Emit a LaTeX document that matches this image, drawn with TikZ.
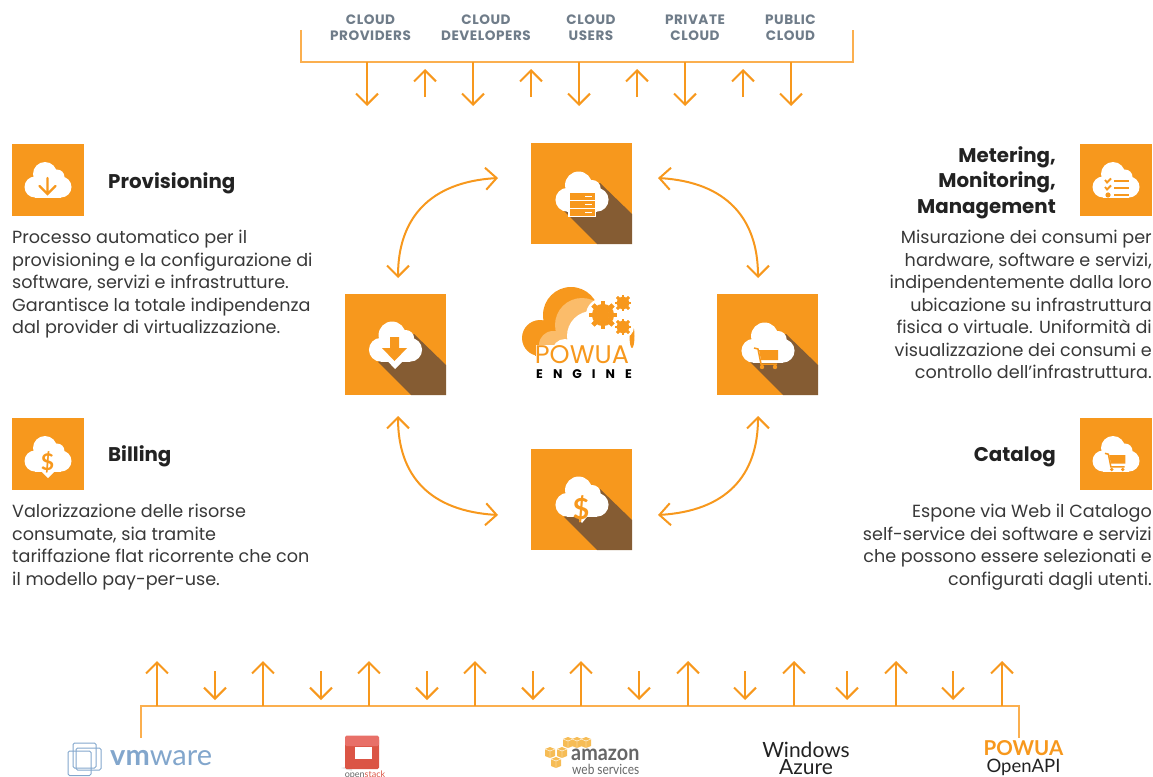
\documentclass[tikz,border=0pt]{standalone}
\usepackage{fontspec}
\setmainfont{Poppins}
\newfontfamily\latof{Lato}
\usetikzlibrary{arrows.meta}
\definecolor{org}{HTML}{F7981D}
\definecolor{bus}{HTML}{FBAF4F}
\definecolor{shad}{HTML}{855C33}
\definecolor{band}{HTML}{FBBC6A}
\definecolor{lab}{HTML}{6F7C89}
\definecolor{ink}{HTML}{222222}
\definecolor{body}{HTML}{383838}
\definecolor{vm}{HTML}{82A6CC}
\definecolor{osr}{HTML}{DB5545}
\definecolor{ost}{HTML}{E87068}
\definecolor{amb}{HTML}{F6BC55}
\tikzset{
  x=1pt,y=-1pt,
  sqbig/.style={fill=org,draw=none,minimum size=101pt,inner sep=0pt},
  sqsmall/.style={fill=org,draw=none,minimum size=72pt,inner sep=0pt},
  flow/.style={draw=org,line width=2pt,-{Straight Barb[length=11pt,width=22pt,line width=2pt]}},
  curve/.style={draw=org,line width=2pt,{Straight Barb[length=11pt,width=22pt,line width=2pt]}-{Straight Barb[length=11pt,width=22pt,line width=2pt]}},
  buswire/.style={draw=bus,line width=1.6pt},
  toplab/.style={inner sep=0pt,align=center,text=lab,font=\fontsize{13.6}{16}\selectfont\bfseries\addfontfeature{LetterSpace=4}},
  lefttxt/.style={inner sep=0pt,anchor=north west,align=left,text=body,font=\fontsize{17.6}{22.5}\selectfont},
  righttxt/.style={inner sep=0pt,anchor=north east,align=right,text=body,font=\fontsize{17.6}{22.5}\selectfont},
  headtxt/.style={inner sep=0pt,text=ink,font=\fontsize{19.8}{25.5}\selectfont\bfseries},
}
\newcommand{\cloudshape}[4]{% x y scale colour
  \begin{scope}[shift={(#1,#2)},scale=#3]
    \fill[#4] (-13,6) circle (10.5) (-3,-7) circle (12) (9,-4) circle (7.5) (13,6) circle (10.5);
    \fill[#4] (-13,-3) rectangle (13,16.5);
  \end{scope}}
\newcommand{\gearshape}[4]{% x y r colour
  \begin{scope}[shift={(#1,#2)}]
    \foreach \a in {0,45,...,315}{\fill[#4,rotate=\a] (-0.2*#3,-1.28*#3) rectangle (0.2*#3,1.28*#3);}
    \draw[#4,line width=0.45*#3] (0,0) circle (0.78*#3);
  \end{scope}}
\newcommand{\glyphdown}[2]{% x y
  \draw[org,line width=2.4pt,line cap=round] (#1,#2-8) -- (#1,#2+8) (#1-8,#2) -- (#1,#2+8) -- (#1+8,#2);}
\newcommand{\glyphserver}[2]{%
  \begin{scope}[shift={(#1,#2)}]
    \fill[white] (-14,-12) rectangle (14,13);
    \foreach \yy in {-11,-3,5}{
      \fill[org] (-12.5,\yy) rectangle (12.5,\yy+6.5);
      \fill[white] (3,\yy+3) rectangle (10,\yy+4);}
  \end{scope}}
\newcommand{\glyphcart}[2]{%
  \begin{scope}[shift={(#1,#2)}]
    \fill[org] (-8,-7) -- (11,-7) -- (11,3) -- (-6,3) -- cycle;
    \draw[org,line width=1.5pt] (-13,-9) -- (-9,-8) -- (-6,7) -- (10,7);
    \fill[org] (-5,10) circle (2.2) (8,10) circle (2.2);
  \end{scope}}
\newcommand{\glyphchecks}[2]{%
  \begin{scope}[shift={(#1,#2)}]
    \foreach \yy in {-6,1,8}{\fill[org] (-2,\yy-1.4) rectangle (13,\yy+1.4);}
    \draw[org,line width=1.8pt] (-11,-7) -- (-9,-4.5) -- (-5,-8.5) (-11,0) -- (-9,2.5) -- (-5,-1.5);
    \fill[org] (-8,8) circle (2.6);
  \end{scope}}
\newcommand{\dollar}[3]{% x y size
  \node[inner sep=0pt,text=org,font=\fontsize{#3}{#3}\selectfont\latof\bfseries] at (#1,#2) {\$};}
\newcommand{\awsbox}[2]{%
  \fill[amb] (#1,#2-4) -- (#1+5,#2-2) -- (#1+5,#2+5) -- (#1,#2+7) -- (#1-5,#2+5) -- (#1-5,#2-2) -- cycle;
  \draw[white,line width=.4pt] (#1-5,#2-2) -- (#1,#2) -- (#1+5,#2-2) (#1,#2) -- (#1,#2+7);}
\begin{document}
\begin{tikzpicture}
\useasboundingbox (0,0) rectangle (1153,776);
% ---------- top labels
\node[toplab] (lbA) at (370.5,27.5) {CLOUD\\PROVIDERS};
\node[toplab] (lbB) at (486,27.5) {CLOUD\\DEVELOPERS};
\node[toplab] (lbC) at (591,27.5) {CLOUD\\USERS};
\node[toplab] (lbD) at (695,27.5) {PRIVATE\\CLOUD};
\node[toplab] (lbE) at (790.5,27.5) {PUBLIC\\CLOUD};
% ---------- top bus
\coordinate (tl) at (301,30); \coordinate (tr) at (853,30);
\coordinate (tbl) at (301,62); \coordinate (tbr) at (853,62);
\draw[buswire] (tl) -- (tbl) -- (tbr) -- (tr);
\foreach \x in {367,473,579,685,791}{\coordinate (a) at (\x,62); \coordinate (b) at (\x,106); \draw[flow] (a) -- (b);}
\foreach \x in {425,531,637,743}{\coordinate (a) at (\x,97); \coordinate (b) at (\x,69); \draw[flow] (a) -- (b);}
% ---------- big squares
\node[sqbig] (sqT) at (581.5,193.5) {};
\node[sqbig] (sqL) at (395.5,344.5) {};
\node[sqbig] (sqR) at (767.5,344.5) {};
\node[sqbig] (sqB) at (581.5,499.5) {};
\foreach \X/\Y in {531/143,345/294,717/294,531/449}{
  \fill[shad] (\X+69,\Y+40) -- (\X+101,\Y+71) -- (\X+101,\Y+101) -- (\X+66,\Y+101) -- (\X+33,\Y+68) -- cycle;}
\cloudshape{582}{193}{1.13}{white}
\glyphserver{582}{204}
\cloudshape{395.5}{343}{1.13}{white}
\fill[white] (379,352) -- (412,352) -- (395,369) -- cycle;
\fill[org] (390,345) -- (390,337) -- (399,337) -- (399,348) -- (407,348) -- (394.5,361) -- (382,348) -- (390,348) -- cycle;
\cloudshape{768}{344}{1.13}{white}
\glyphcart{767}{357}
\cloudshape{582}{498}{1.13}{white}
\fill[white] (573,512) -- (591,512) -- (582,523) -- cycle;
\dollar{581}{509}{29}
% ---------- cycle arrows
\coordinate (c1) at (498,178); \coordinate (c2) at (398,278);
\coordinate (c3) at (658,178); \coordinate (c4) at (758,278);
\coordinate (c5) at (398,416); \coordinate (c6) at (498,515);
\coordinate (c7) at (758,416); \coordinate (c8) at (658,515);
\draw[curve] (c1) .. controls (430,182) and (398,218) .. (c2);
\draw[curve] (c3) .. controls (726,182) and (758,218) .. (c4);
\draw[curve] (c5) .. controls (398,476) and (430,511) .. (c6);
\draw[curve] (c7) .. controls (758,476) and (726,511) .. (c8);
% ---------- engine logo
\fill[org] (571,315) circle (28) (540,338) circle (18) (545,352) circle (8);
\fill[org] (535,330) rectangle (590,356);
\fill[band] (582,325) circle (27) (553,345) circle (14);
\fill[band] (545,338) rectangle (590,358);
\fill[white] (592,336) circle (25) (565,352) circle (13) (612,345) circle (19);
\fill[white] (548,350) rectangle (634,368);
\fill[white] (536,345) rectangle (560,368);
\fill[org] (632,336) ellipse (2.5 and 12);
\fill[white] (603,315) circle (17) (623,303) circle (11) (623,327) circle (11);
\gearshape{603}{315}{11}{org}
\gearshape{623}{303}{6.5}{org}
\gearshape{623}{327}{6.5}{org}
\node[inner sep=0pt,text=org,font=\fontsize{25.5}{27}\selectfont] (pw) at (582,355) {POWUA};
\node[inner sep=0pt,text=black,font=\fontsize{12.5}{13}\selectfont\bfseries\addfontfeature{LetterSpace=80}] (en) at (584,374.5) {ENGINE};
% ---------- side panels
\node[sqsmall] (icP) at (48,180) {};
\cloudshape{48}{181}{1}{white}
\glyphdown{47.5}{186}
\node[headtxt,anchor=west] (hP) at (108,183) {Provisioning};
\node[lefttxt] (tP) at (12,230) {Processo automatico per il\\provisioning e la configurazione di\\software, servizi e infrastrutture.\\Garantisce la totale indipendenza\\dal provider di virtualizzazione.};
\node[sqsmall] (icB) at (48,454) {};
\cloudshape{48}{455}{1}{white}
\fill[white] (40,470) -- (56,470) -- (48,478) -- cycle;
\dollar{47.5}{462}{23}
\node[headtxt,anchor=west] (hB) at (108,456) {Billing};
\node[lefttxt] (tB) at (12,504) {Valorizzazione delle risorse\\consumate, sia tramite\\tariffazione flat ricorrente che con\\il modello pay-per-use.};
\node[sqsmall] (icM) at (1116,180) {};
\cloudshape{1116}{181}{1}{white}
\glyphchecks{1116}{187}
\node[headtxt,anchor=east,align=right] (hM) at (1056,182.5) {Metering,\\Monitoring,\\Management};
\node[righttxt] (tM) at (1152,230) {Misurazione dei consumi per\\hardware, software e servizi,\\indipendentemente dalla loro\\ubicazione su infrastruttura\\fisica o virtuale. Uniformità di\\visualizzazione dei consumi e\\controllo dell'infrastruttura.};
\node[sqsmall] (icC) at (1116,454) {};
\cloudshape{1116}{455}{1}{white}
\begin{scope}[shift={(1116,461)},scale=.85]
  \fill[org] (-8,-7) -- (11,-7) -- (11,3) -- (-6,3) -- cycle;
  \draw[org,line width=1.5pt] (-13,-9) -- (-9,-8) -- (-6,7) -- (10,7);
  \fill[org] (-5,10) circle (2.2) (8,10) circle (2.2);
\end{scope}
\node[headtxt,anchor=east] (hC) at (1056,457) {Catalog};
\node[righttxt] (tC) at (1152,504) {Espone via Web il Catalogo\\self-service dei software e servizi\\che possono essere selezionati e\\configurati dagli utenti.};
% ---------- bottom bus
\coordinate (bl) at (141,738); \coordinate (br) at (1019,738);
\coordinate (bbl) at (141,706); \coordinate (bbr) at (1019,706);
\draw[buswire] (bl) -- (bbl) -- (bbr) -- (br);
\foreach \x in {157,263,369,475,581,688,794,896,1002}{\coordinate (a) at (\x,706); \coordinate (b) at (\x,661); \draw[flow] (a) -- (b);}
\foreach \x in {215,321,427,533,639,745,847,953}{\coordinate (a) at (\x,671); \coordinate (b) at (\x,700); \draw[flow] (a) -- (b);}
% ---------- bottom logos
\begin{scope}[draw=vm,line width=1pt]
  \draw[rounded corners=1.5pt] (73,743) rectangle (96,768);
  \draw[rounded corners=1.5pt] (68,751) rectangle (91,775.5);
  \draw[rounded corners=1.5pt] (76,748) rectangle (101,770);
\end{scope}
\node[inner sep=0pt,anchor=west,text=vm,font=\latof\fontsize{29}{31}\selectfont] (vmw) at (110,758) {\textbf{vm}ware};
\fill[black!10] (341,768) -- (352,771) -- (352,765) -- cycle;
\fill[osr,rounded corners=1.5pt] (345,738) rectangle (379,769);
\fill[ost,rounded corners=1.5pt] (345,735.5) rectangle (379,746);
\fill[white] (355,747) rectangle (372,759);
\node[inner sep=0pt,text=black!60,font=\latof\fontsize{9}{9}\selectfont] (ost) at (365,775) {open\textcolor{osr}{stack}};
\awsbox{550}{751}\awsbox{562}{751}\awsbox{556}{761}\awsbox{568}{741}\awsbox{577}{741}\awsbox{586}{741}
\node[inner sep=0pt,anchor=west,text=black!60,font=\latof\fontsize{22}{22}\selectfont\bfseries\addfontfeature{FakeStretch=.9}] (amz) at (571,755) {amazon};
\node[inner sep=0pt,anchor=west,text=black!60,font=\latof\fontsize{14}{14}\selectfont\addfontfeature{FakeStretch=.85}] (aws) at (572,769) {web services};
\node[inner sep=0pt,text=ink,font=\latof\fontsize{21}{18}\selectfont] (az1) at (806,750) {Windows};
\node[inner sep=0pt,text=ink,font=\latof\fontsize{21}{18}\selectfont] (az2) at (806,767) {Azure};
\node[inner sep=0pt,text=org,font=\latof\fontsize{20.5}{20}\selectfont\bfseries] (pw2) at (1023.5,748) {POWUA};
\node[inner sep=0pt,text=ink,font=\latof\fontsize{18.5}{20}\selectfont] (api) at (1023.5,767) {OpenAPI};
\end{tikzpicture}
\end{document}
